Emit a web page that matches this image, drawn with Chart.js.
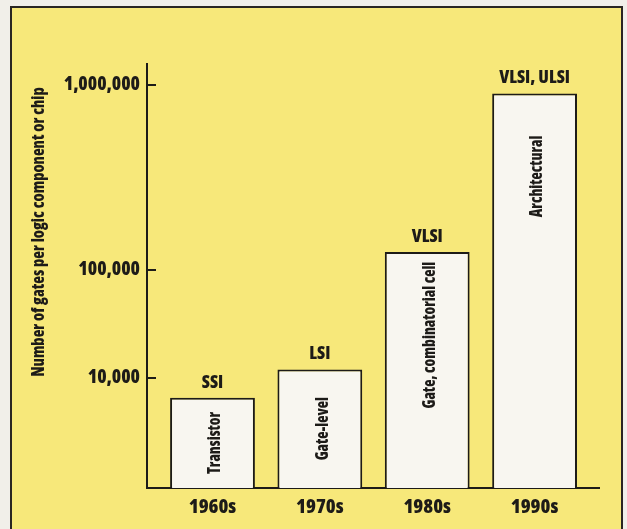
<!DOCTYPE html>
<html>
<head>
<meta charset="utf-8">
<script src="https://cdn.jsdelivr.net/npm/chart.js@4/dist/chart.umd.min.js"></script>
<style>
  html, body { margin: 0; padding: 0; background: #f1efe9; }
  #wrap { width: 627px; height: 529px; position: relative; }
</style>
</head>
<body>
<div id="wrap"><canvas id="chart" width="627" height="529"></canvas></div>
<script>
// Gates per chip by decade, with the integration level and design level of each era
const decades = ['1960s', '1970s', '1980s', '1990s'];
const gatesPerChip = [6600, 12000, 125000, 900000];
const integrationLevel = ['SSI', 'LSI', 'VLSI', 'VLSI, ULSI'];
const designLevel = ['Transistor', 'Gate-level', 'Gate, combinatorial cell', 'Architectural'];
const yTickValues = [10000, 100000, 1000000];
const yTitle = 'Number of gates per logic component or chip';

const FAMILY = "'Open Sans', 'Roboto Condensed', sans-serif";
const INK = '#1d1b18';
// Open Sans is a variable font with a width axis; 'condensed' picks its narrow cut
const HEAVY = 'condensed 800';
const canvasFont = (size, weight) => `${weight || HEAVY} ${size}px ${FAMILY}`;

// Log axis whose decades are not all drawn the same height:
// each knot is [log10(value), fraction of the axis height from the bottom].
class DecadeScale extends Chart.LinearScale {
  static id = 'decade';
  static defaults = {};
  determineDataLimits() {
    this.min = this.options.min;
    this.max = this.options.max;
  }
  buildTicks() {
    return this.options.tickValues.map(v => ({ value: v }));
  }
  _toDecimal(value) {
    const k = this.options.knots;
    const lv = Math.log10(Math.max(value, this.min));
    for (let i = 1; i < k.length; i++) {
      if (lv <= k[i][0] || i === k.length - 1) {
        const t = (lv - k[i - 1][0]) / (k[i][0] - k[i - 1][0]);
        return k[i - 1][1] + t * (k[i][1] - k[i - 1][1]);
      }
    }
    return 0;
  }
  getPixelForValue(value) {
    if (value === undefined || value === null || value <= 0) value = this.min;
    return this.getPixelForDecimal(this._toDecimal(value));
  }
  getValueForPixel(pixel) {
    const d = this.getDecimalForPixel(pixel);
    const k = this.options.knots;
    for (let i = 1; i < k.length; i++) {
      if (d <= k[i][1] || i === k.length - 1) {
        const t = (d - k[i - 1][1]) / (k[i][1] - k[i - 1][1]);
        return Math.pow(10, k[i - 1][0] + t * (k[i][0] - k[i - 1][0]));
      }
    }
    return this.min;
  }
}
Chart.register(DecadeScale);

// Yellow panel on the page
const panelPlugin = {
  id: 'panel',
  beforeDraw(chart) {
    const ctx = chart.ctx;
    ctx.save();
    ctx.fillStyle = '#f1efe9';
    ctx.fillRect(0, 0, chart.width, chart.height);
    ctx.fillStyle = '#f7e87a';
    ctx.fillRect(11, 7, 611, chart.height);
    ctx.strokeStyle = '#2a2622';
    ctx.lineWidth = 2;
    ctx.strokeRect(11, 7, 611, chart.height + 10);
    ctx.restore();
  }
};

// Vertical text, squeezed a little along its run
function drawUpText(ctx, text, x, y, font, squeeze) {
  ctx.save();
  ctx.translate(x, y);
  ctx.rotate(-Math.PI / 2);
  ctx.scale(squeeze, 1);
  ctx.font = font;
  ctx.textAlign = 'center';
  ctx.textBaseline = 'middle';
  ctx.fillText(text, 0, 0);
  ctx.restore();
}

// Inward tick marks, axis title and the labels on and above each bar
const annotatePlugin = {
  id: 'annotate',
  afterDraw(chart) {
    const ctx = chart.ctx;
    const y = chart.scales.y;
    const area = chart.chartArea;
    ctx.save();
    ctx.strokeStyle = INK;
    ctx.lineWidth = 2;
    y.ticks.forEach(t => {
      const py = Math.round(y.getPixelForValue(t.value));
      ctx.beginPath();
      ctx.moveTo(area.left, py);
      ctx.lineTo(area.left + 9, py);
      ctx.stroke();
    });

    ctx.fillStyle = INK;
    drawUpText(ctx, yTitle, 39, 232, canvasFont(17, 'condensed 800'), 0.93);

    const meta = chart.getDatasetMeta(0);
    meta.data.forEach((bar, i) => {
      // integration level above the bar
      ctx.font = canvasFont(18);
      ctx.textAlign = 'center';
      ctx.textBaseline = 'alphabetic';
      ctx.fillText(integrationLevel[i], bar.x, bar.y - 10);
      // design level written up the bar
      const mid = Math.min((bar.y + bar.base) / 2, bar.y + 83);
      drawUpText(ctx, designLevel[i], bar.x + 3, mid, canvasFont(17), 0.88);
    });
    ctx.restore();
  }
};

new Chart(document.getElementById('chart'), {
  type: 'bar',
  data: {
    datasets: [{
      data: decades.map((d, i) => ({ x: i, y: gatesPerChip[i] })),
      backgroundColor: '#f8f6f0',
      borderColor: INK,
      borderWidth: 2,
      borderSkipped: 'bottom',
      barPercentage: 0.79,
      categoryPercentage: 1
    }]
  },
  options: {
    responsive: false,
    animation: false,
    events: [],
    layout: { padding: { left: 0, top: 64, right: 28, bottom: 0 } },
    plugins: { legend: { display: false }, tooltip: { enabled: false } },
    scales: {
      x: {
        type: 'linear',
        offset: false,
        min: -0.61,
        max: 3.6,
        grid: { display: false, drawTicks: false },
        border: { display: true, color: INK, width: 2 },
        afterBuildTicks: s => { s.ticks = decades.map((_, i) => ({ value: i })); },
        afterFit: s => { s.height = 41; },
        ticks: {
          autoSkip: false,
          maxRotation: 0,
          padding: 7,
          color: INK,
          font: { family: FAMILY, size: 20, weight: HEAVY },
          callback: v => decades[v]
        }
      },
      y: {
        type: 'decade',
        position: 'left',
        min: 1000,
        max: 1300000,
        tickValues: yTickValues,
        knots: [[3, 0], [4, 0.2594], [5, 0.5142], [6, 0.9505], [Math.log10(1300000), 1]],
        grid: { display: false, drawTicks: false },
        border: { display: true, color: INK, width: 2 },
        afterFit: s => { s.width = 147; },
        ticks: {
          padding: 7,
          color: INK,
          font: { family: FAMILY, size: 19, weight: HEAVY },
          callback: v => Number(v).toLocaleString('en-US')
        }
      }
    }
  },
  plugins: [panelPlugin, annotatePlugin]
});
</script>
</body>
</html>
